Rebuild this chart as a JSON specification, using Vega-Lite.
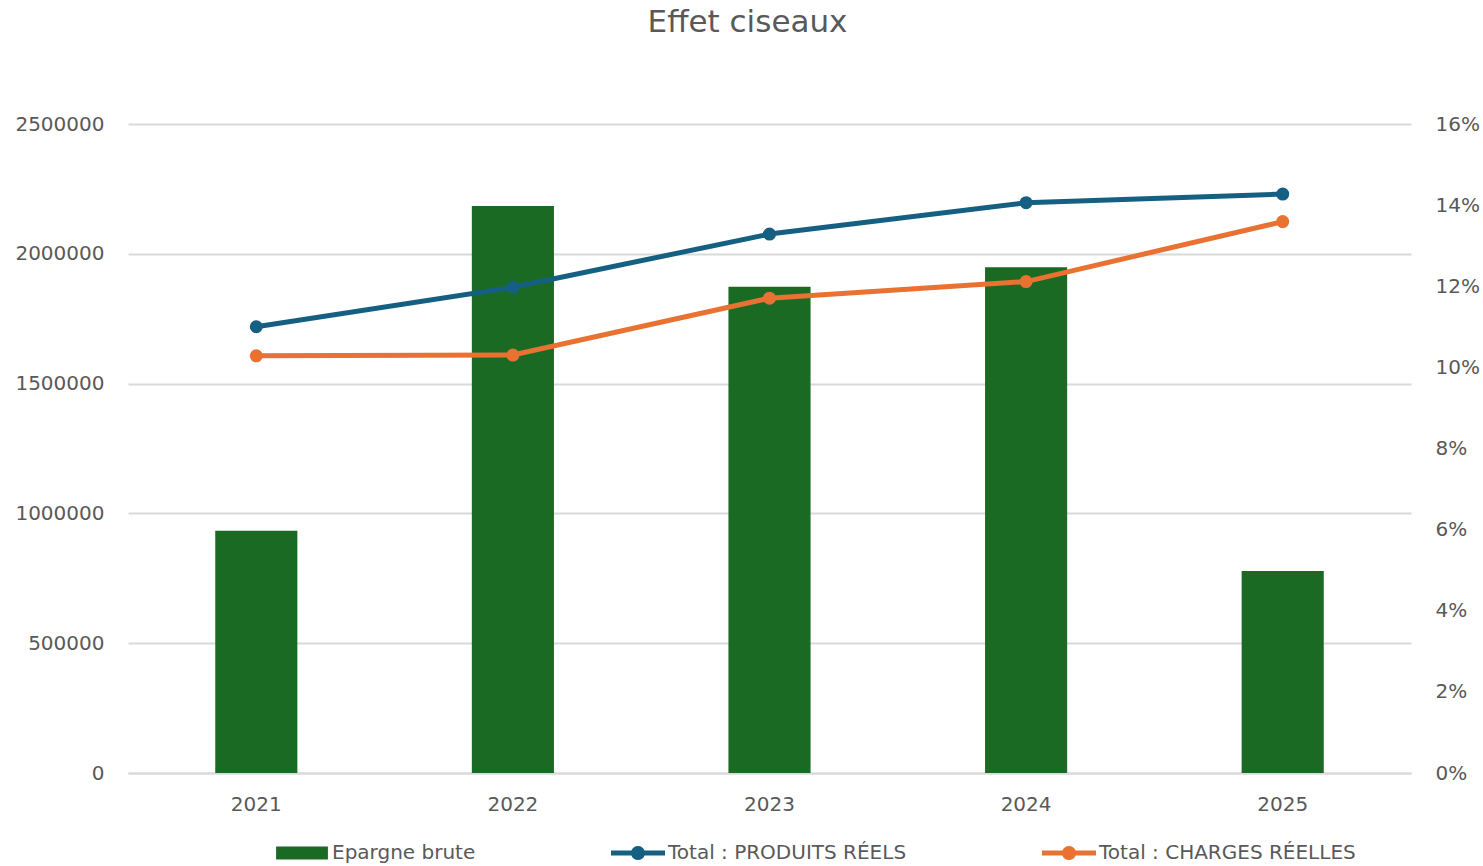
{
  "$schema": "https://vega.github.io/schema/vega-lite/v6.json",
  "width": 1283,
  "height": 649,
  "autosize": "none",
  "padding": {"left": 128, "top": 124, "right": 72, "bottom": 93},
  "background": "white",
  "config": {"view": {"stroke": null}, "font": "DejaVu Sans"},
  "title": {
    "text": "Effet ciseaux",
    "fontSize": 31,
    "font": "DejaVu Sans",
    "fontWeight": "normal",
    "color": "#595959",
    "anchor": "middle",
    "dx": -22,
    "offset": 75
  },
  "data": {
    "values": [
      {"annee": "2021", "serie": "Epargne brute", "valeur": 0.0597},
      {"annee": "2022", "serie": "Epargne brute", "valeur": 0.1398},
      {"annee": "2023", "serie": "Epargne brute", "valeur": 0.1199},
      {"annee": "2024", "serie": "Epargne brute", "valeur": 0.1247},
      {"annee": "2025", "serie": "Epargne brute", "valeur": 0.0498},
      {"annee": "2021", "serie": "Total : PRODUITS RÉELS", "valeur": 1719000},
      {"annee": "2022", "serie": "Total : PRODUITS RÉELS", "valeur": 1871000},
      {"annee": "2023", "serie": "Total : PRODUITS RÉELS", "valeur": 2076000},
      {"annee": "2024", "serie": "Total : PRODUITS RÉELS", "valeur": 2197000},
      {"annee": "2025", "serie": "Total : PRODUITS RÉELS", "valeur": 2230000},
      {"annee": "2021", "serie": "Total : CHARGES RÉELLES", "valeur": 1607000},
      {"annee": "2022", "serie": "Total : CHARGES RÉELLES", "valeur": 1610000},
      {"annee": "2023", "serie": "Total : CHARGES RÉELLES", "valeur": 1829000},
      {"annee": "2024", "serie": "Total : CHARGES RÉELLES", "valeur": 1893000},
      {"annee": "2025", "serie": "Total : CHARGES RÉELLES", "valeur": 2124000}
    ]
  },
  "layer": [
    {
      "transform": [{"filter": "datum.serie === 'Epargne brute'"}],
      "mark": {"type": "bar"},
      "encoding": {
        "x": {
          "field": "annee",
          "type": "ordinal",
          "scale": {"paddingInner": 0.68, "paddingOuter": 0.34},
          "axis": {
            "title": null,
            "labelAngle": 0,
            "labelFontSize": 20,
            "labelColor": "#595959",
            "labelPadding": 21,
            "ticks": false,
            "domain": true,
            "domainColor": "#d9d9d9",
            "domainWidth": 2
          }
        },
        "y": {
          "field": "valeur",
          "type": "quantitative",
          "scale": {"domain": [0, 0.16], "nice": false},
          "axis": {
            "orient": "right",
            "title": null,
            "values": [0, 0.02, 0.04, 0.06, 0.08, 0.1, 0.12, 0.14, 0.16],
            "format": ".0%",
            "labelFontSize": 20,
            "labelColor": "#595959",
            "labelPadding": 24,
            "ticks": false,
            "domain": false,
            "grid": false
          }
        },
        "color": {
          "field": "serie",
          "type": "nominal",
          "scale": {
            "domain": ["Epargne brute", "Total : PRODUITS RÉELS", "Total : CHARGES RÉELLES"],
            "range": ["#1b6a24", "#155f82", "#e97132"]
          },
          "legend": {
            "title": null,
            "orient": "none",
            "direction": "horizontal",
            "legendX": 147,
            "legendY": 702,
            "labelFontSize": 20,
            "labelColor": "#595959",
            "labelOffset": 3,
            "labelLimit": 400,
            "columnPadding": 135,
            "symbolSize": 2916,
            "symbolStrokeWidth": 0,
            "encode": {
              "symbols": {
                "update": {
                  "shape": {"signal": "datum.index === 0 ? 'M-0.96,-0.24H0.96V0.24H-0.96Z' : 'M-1,-0.09H-0.244A0.26,0.26 0 0,1 0.244,-0.09H1V0.09H0.244A0.26,0.26 0 0,1 -0.244,0.09H-1Z'"},
                  "size": {"value": 2916},
                  "fill": {"scale": "color", "field": "value"},
                  "fillOpacity": {"value": 1},
                  "strokeWidth": {"value": 0}
                }
              }
            }
          }
        }
      }
    },
    {
      "transform": [{"filter": "datum.serie !== 'Epargne brute'"}],
      "mark": {"type": "line", "strokeWidth": 5, "point": {"filled": true, "size": 170, "opacity": 1}},
      "encoding": {
        "x": {"field": "annee", "type": "ordinal", "bandPosition": 0.5},
        "y": {
          "field": "valeur",
          "type": "quantitative",
          "scale": {"domain": [0, 2500000], "nice": false},
          "axis": {
            "orient": "left",
            "title": null,
            "values": [0, 500000, 1000000, 1500000, 2000000, 2500000],
            "format": "d",
            "labelFontSize": 20,
            "labelColor": "#595959",
            "labelPadding": 24,
            "ticks": false,
            "domain": false,
            "grid": true,
            "gridColor": "#d9d9d9",
            "gridWidth": 2
          }
        },
        "color": {"field": "serie", "type": "nominal"}
      }
    }
  ],
  "resolve": {"scale": {"y": "independent"}}
}
